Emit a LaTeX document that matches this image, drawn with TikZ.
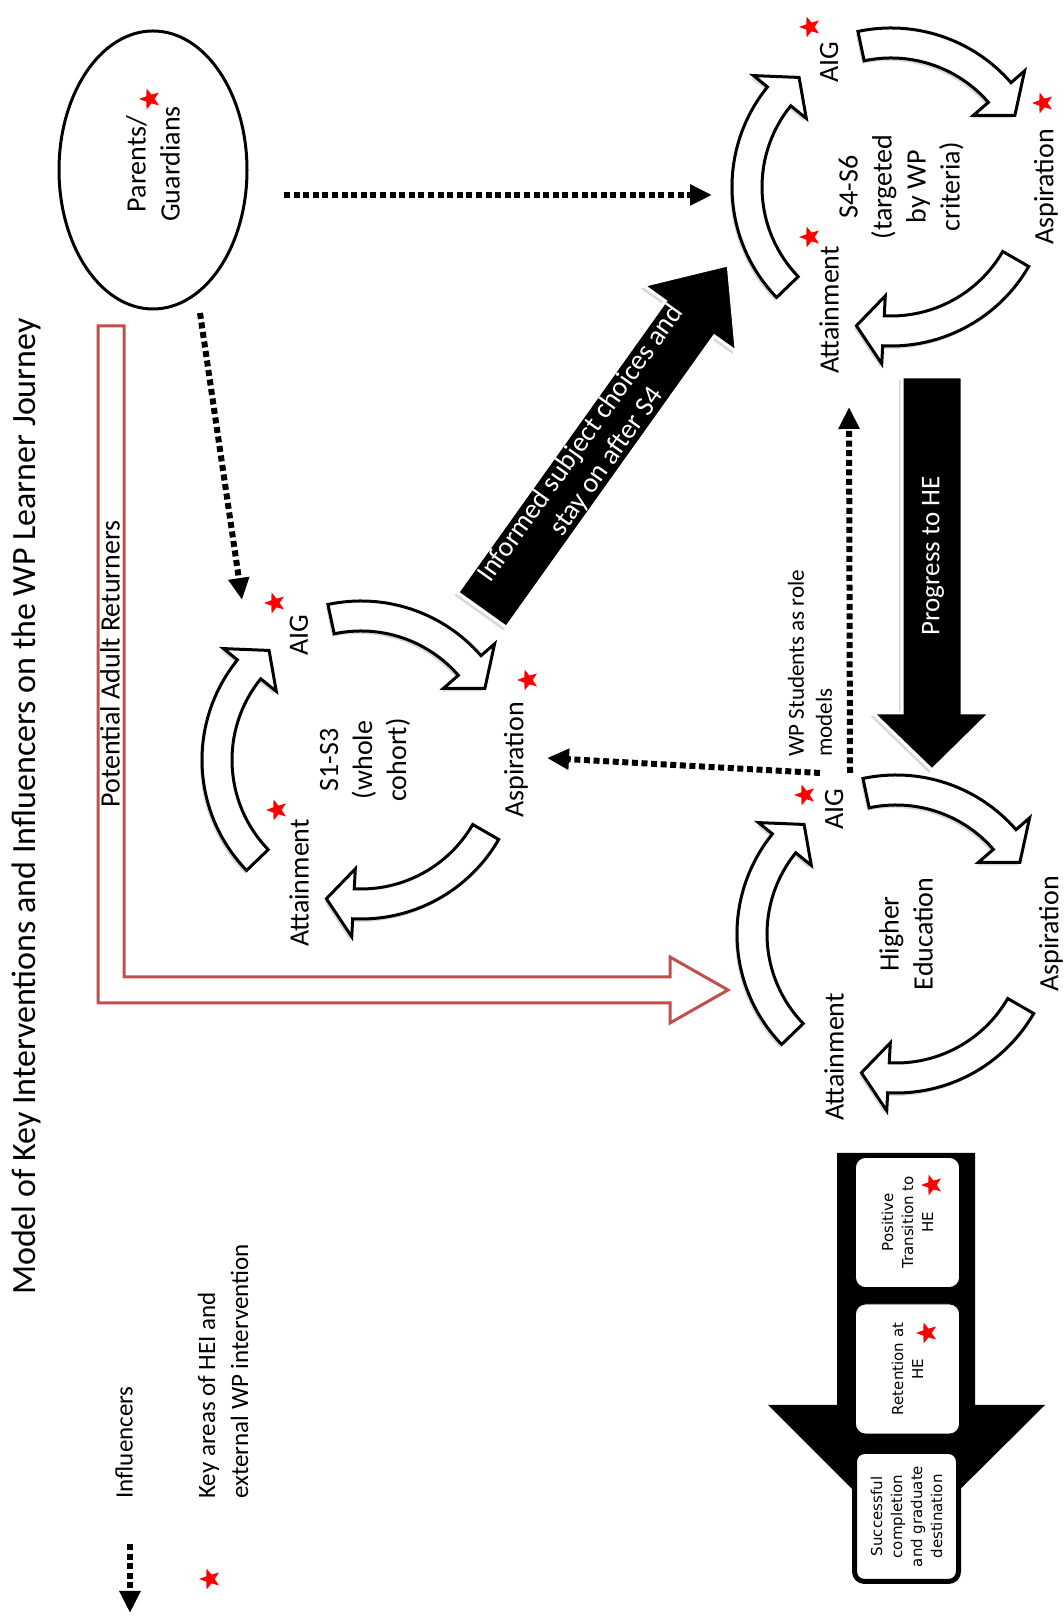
\documentclass[tikz,border=0pt]{standalone}
\usepackage{fontspec}
\setmainfont{Carlito}
\newfontfamily\stagefont{DejaVu Sans}
\usetikzlibrary{shapes.geometric,shadows,arrows.meta,calc,positioning}

\definecolor{returnred}{HTML}{C0504D}

\tikzset{
  cyclearrow/.style={draw=black, fill=white, line width=1.5pt, line join=miter,
    drop shadow={shadow xshift=-1pt, shadow yshift=-1.5pt, opacity=0.3}},
  influence/.style={line width=3pt, dash pattern=on 3pt off 1.8pt,
    -{Triangle[length=11pt,width=10pt]}},
  keystar/.style={star, star points=5, star point ratio=2.4, fill=red,
    inner sep=0pt, minimum size=11pt},
  stagelabel/.style={font=\fontsize{14}{17}\selectfont, inner sep=0pt},
  stagetext/.style={font=\fontsize{14}{17}\selectfont, align=center},
  keytext/.style={anchor=west, align=left, inner sep=0pt, font=\fontsize{12.5}{16.5}\selectfont},
  bigarrow/.style={fill=black, draw=white, line width=1.5pt,
    drop shadow={shadow xshift=-1.5pt, shadow yshift=-1.5pt, opacity=0.3}},
  stagebox/.style={draw=black, fill=white, rounded corners=5pt, minimum width=65pt,
    minimum height=52pt, align=center, inner sep=1pt,
    font=\stagefont\fontsize{7.5}{10}\selectfont},
}

% one curved block arrow of a cycle: centre, tail angle, tip angle
\newcommand{\cyclearc}[3]{%
  \begin{scope}[shift={(#1)}]
    \pgfmathsetmacro{\headbase}{#3+11}
    \draw[cyclearrow] (#2:159) arc[start angle=#2, end angle=\headbase, radius=159]
      -- (\headbase:177) -- (#3:143) -- (\headbase:109) -- (\headbase:129)
      arc[start angle=\headbase, end angle=#2, radius=129] -- cycle;
  \end{scope}}

\newcommand{\learnercycle}[1]{%
  \cyclearc{#1}{134}{40}
  \cyclearc{#1}{12}{-60}
  \cyclearc{#1}{240}{166}}

\begin{document}
\begin{tikzpicture}[x=0.5pt, y=0.5pt, rotate=90, transform shape]
\useasboundingbox (0,0) rectangle (1616,-1064);

% title and key
\node[anchor=west, font=\fontsize{17}{20}\selectfont] (title) at (314,-26)
  {Model of Key Interventions and Influencers on the WP Learner Journey};
\coordinate (keyfrom) at (72,-130);
\coordinate (keyto) at (3,-130);
\draw[influence] (keyfrom) -- (keyto);
\node[keytext] (keyinf) at (117,-124) {Influencers};
\node[keystar] (keystar) at (37,-210) {};
\node[keytext] (keyhei) at (117,-223) {Key areas of HEI and\\external WP intervention};

% adult returners
\draw[returnred, line width=1.5pt, line join=miter] (1290,-98) -- (613,-98) -- (613,-670)
  -- (593,-670) -- (626,-728) -- (659,-670) -- (639,-670) -- (639,-124) -- (1290,-124) -- cycle;
\node[font=\fontsize{14}{16}\selectfont, inner sep=0pt] (returners) at (952,-110)
  {Potential Adult Returners};

% parents
\node[draw, ellipse, line width=1.5pt, minimum width=139pt, minimum height=94pt] (parents)
  at (1446,-153) {};
\node[align=center, font=\fontsize{14}{17}\selectfont] (parentsname) at (1452,-153)
  {Parents/\\Guardians};
\node[keystar] (parentsstar) at (1517,-150) {};

% the three cycles
\coordinate (s13) at (856,-361);
\coordinate (s46) at (1429,-891);
\coordinate (he) at (682,-896);
\learnercycle{s13}
\learnercycle{s46}
\learnercycle{he}

\node[stagelabel] (s13aig) at ($(s13)+(125,62)$) {AIG};
\node[stagelabel] (s13att) at ($(s13)+(-123,62)$) {Attainment};
\node[stagelabel] (s13asp) at ($(s13)+(0,-155)$) {Aspiration};
\node[stagetext] (s13name) at ($(s13)+(0,-4)$) {S1-S3\\(whole\\cohort)};
\node[keystar] (s13aigstar) at ($(s13)+(157,86)$) {};
\node[keystar] (s13attstar) at ($(s13)+(-50,84)$) {};
\node[keystar] (s13aspstar) at ($(s13)+(80,-167)$) {};

\node[stagelabel] (s46aig) at ($(s46)+(125,62)$) {AIG};
\node[stagelabel] (s46att) at ($(s46)+(-123,62)$) {Attainment};
\node[stagelabel] (s46asp) at ($(s46)+(0,-155)$) {Aspiration};
\node[stagetext] (s46name) at ($(s46)+(0,-10)$) {S4-S6\\(targeted\\by WP\\criteria)};
\node[keystar] (s46aigstar) at ($(s46)+(160,81)$) {};
\node[keystar] (s46attstar) at ($(s46)+(-50,81)$) {};
\node[keystar] (s46aspstar) at ($(s46)+(84,-152)$) {};

\node[stagelabel] (heaig) at ($(he)+(125,62)$) {AIG};
\node[stagelabel] (heatt) at ($(he)+(-123,62)$) {Attainment};
\node[stagelabel] (heasp) at ($(he)+(0,-155)$) {Aspiration};
\node[stagetext] (hename) at ($(he)+(0,-10)$) {Higher\\Education};
\node[keystar] (heaigstar) at ($(he)+(139,91)$) {};

% influencers
\coordinate (parentsfoot) at (1303,-200);
\coordinate (s13in) at (1016,-242);
\coordinate (parentsside) at (1421,-284);
\coordinate (s46in) at (1421,-712);
\coordinate (heleft) at (843,-820);
\coordinate (s13aspin) at (858,-547);
\coordinate (heright) at (843,-850);
\coordinate (s46attin) at (1209,-849);
\draw[influence] (parentsfoot) -- (s13in);
\draw[influence] (parentsside) -- (s46in);
\draw[influence] (heleft) -- (s13aspin);
\draw[influence] (heright) -- (s46attin);
\node[anchor=west, align=left, font=\fontsize{11.5}{14}\selectfont, inner sep=0pt] (rolemodels)
  at (859,-810) {WP Students as role\\models};

% progression arrows
\begin{scope}[shift={(1006,-482)}, rotate=-35.5]
  \filldraw[bigarrow] (0,30) -- (358,30) -- (358,57) -- (424,0) -- (358,-57) -- (358,-30)
    -- (0,-30) -- cycle;
  \node[white, align=center, font=\fontsize{14}{16}\selectfont] (informed) at (193,0)
    {Informed subject choices and\\stay on after S4};
\end{scope}
\filldraw[bigarrow] (1239,-902) -- (903,-902) -- (903,-873) -- (846,-932) -- (903,-990)
  -- (903,-962) -- (1239,-962) -- cycle;
\node[white, font=\fontsize{13.5}{16}\selectfont] (progress) at (1060,-933) {Progress to HE};

% stages in higher education
\fill (463,-837) -- (211,-837) -- (211,-768) -- (73,-906) -- (211,-1045) -- (211,-975)
  -- (463,-975) -- cycle;
\node[stagebox] (transition) at (393.5,-907.5) {Positive\\Transition to\\HE};
\node[stagebox] (retention) at (247,-907.5) {Retention at\\HE};
\node[stagebox, line width=2.5pt] (completion) at (99.5,-906.5)
  {Successful\\completion\\and graduate\\destination};
\node[keystar] (transitionstar) at (431,-932) {};
\node[keystar] (retentionstar) at (283,-927) {};

\end{tikzpicture}
\end{document}
